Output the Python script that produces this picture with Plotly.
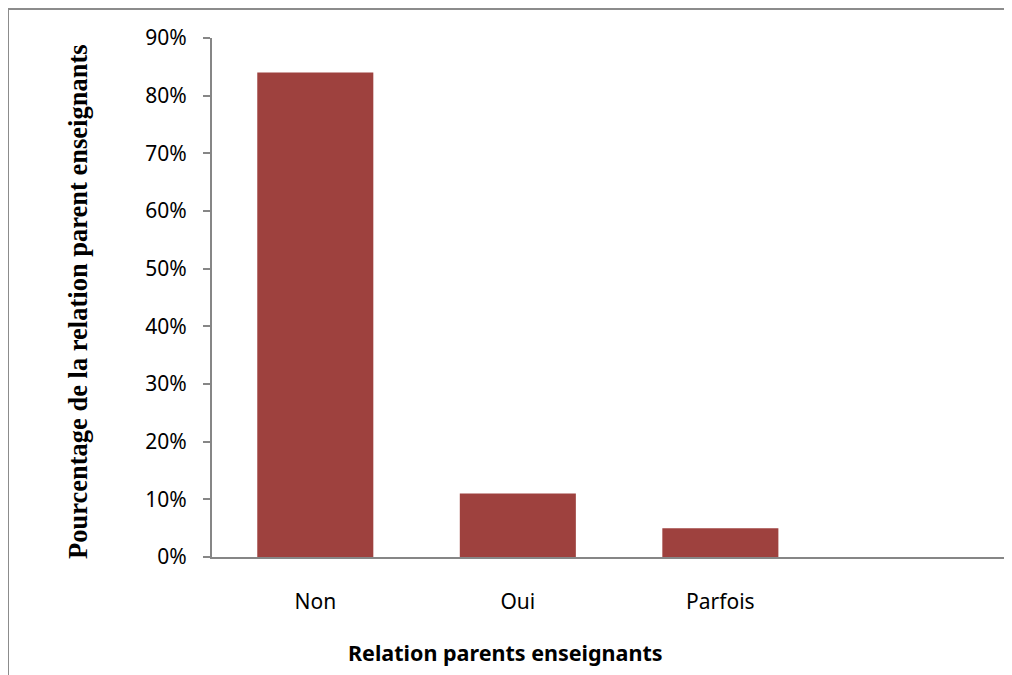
import plotly.graph_objects as go

categories = ["Non", "Oui", "Parfois", " "]
values = [0.84, 0.11, 0.05, None]
y_ticks = [0, 0.1, 0.2, 0.3, 0.4, 0.5, 0.6, 0.7, 0.8, 0.9]
y_tick_labels = ["0%", "10%", "20%", "30%", "40%", "50%", "60%", "70%", "80%", "90%"]

# page body has an 8px margin; work in reference pixel coords and shift
OFF = 8
W, H = 1012 - OFF, 675 - OFF
L, R, T, B = 212 - OFF, 0, 38 - OFF, 675 - 557
pw, ph = W - L - R, H - T - B

def px_x(p):
    return (p - OFF - L) / pw

def px_y(p):
    return (H - B - (p - OFF)) / ph

fig = go.Figure()
fig.add_trace(go.Bar(
    x=categories, y=values,
    marker=dict(color="#9E413E", line=dict(width=0)),
    width=0.573,
))

axis_color = "#868686"
fig.update_layout(
    width=W, height=H,
    margin=dict(l=L, r=R, t=T, b=B, pad=0),
    paper_bgcolor="white", plot_bgcolor="white",
    showlegend=False,
    font=dict(family="Noto Sans", size=21, color="black"),
    xaxis=dict(
        range=[-0.51, 3.44], showline=True, linecolor=axis_color, linewidth=2,
        ticks="", showgrid=False, zeroline=False,
        tickfont=dict(family="Noto Sans", size=21),
        ticklabelstandoff=25, fixedrange=True,
    ),
    yaxis=dict(
        range=[0, 0.9], tickvals=y_ticks, ticktext=y_tick_labels,
        showline=True, linecolor=axis_color, linewidth=2,
        ticks="outside", ticklen=7, tickcolor=axis_color, tickwidth=2,
        showgrid=False, zeroline=False,
        tickfont=dict(family="Noto Sans", size=21),
        ticklabelstandoff=12,
    ),
    shapes=[
        dict(type="line", xref="paper", yref="paper",
             x0=px_x(8), x1=px_x(8), y0=px_y(9), y1=px_y(680),
             line=dict(color="#8C8C8C", width=2)),
        dict(type="line", xref="paper", yref="paper",
             x0=px_x(8), x1=px_x(1020), y0=px_y(9), y1=px_y(9),
             line=dict(color="#8C8C8C", width=2)),
    ],
    annotations=[
        dict(text="<b>Pourcentage de la relation parent enseignants</b>",
             xref="paper", yref="paper", x=px_x(78), y=px_y(302),
             xanchor="center", yanchor="middle", textangle=-90, showarrow=False,
             font=dict(family="Liberation Serif", size=26.5, color="black")),
        dict(text="<b>Relation parents enseignants</b>",
             xref="paper", yref="paper", x=px_x(505), y=px_y(652),
             xanchor="center", yanchor="middle", showarrow=False,
             font=dict(family="Noto Sans", size=21.5, color="black")),
    ],
)

fig.write_html("out.html")
